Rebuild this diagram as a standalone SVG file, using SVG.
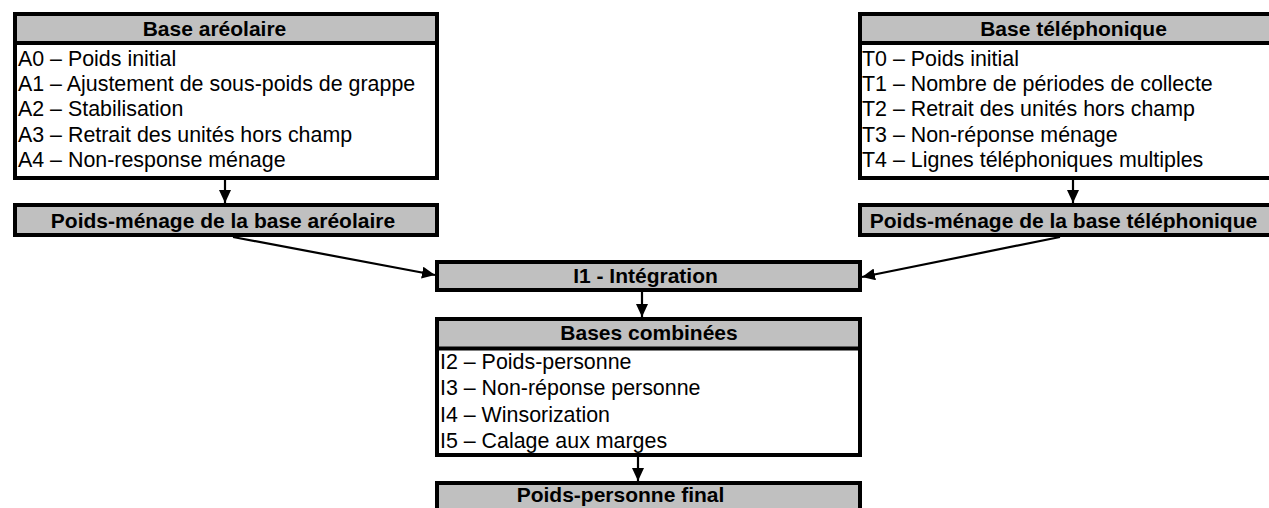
<svg xmlns="http://www.w3.org/2000/svg" width="1269" height="508" viewBox="0 0 1269 508">
<style>
.box{fill:#ffffff;stroke:#000000;stroke-width:4}
.hdr{fill:#c0c0c0;stroke:#000000;stroke-width:4}
.t{font-family:"Liberation Sans",Arial,sans-serif;font-size:21.4px;fill:#000000}
.b{font-family:"Liberation Sans",Arial,sans-serif;font-size:21px;font-weight:bold;fill:#000000;text-anchor:middle}
.c{stroke:#000000;stroke-width:2.2;fill:none;marker-end:url(#ah)}
</style>
<defs>
<marker id="ah" markerUnits="userSpaceOnUse" markerWidth="13" markerHeight="12" refX="13" refY="6" orient="auto" viewBox="0 0 13 12">
<path d="M0,0 L13,6 L0,12 z" fill="#000000"/>
</marker>
</defs>
<g id="base-areolaire">
<rect class="box" x="15" y="14" width="422" height="164"/>
<rect class="hdr" x="15" y="14" width="422" height="29"/>
<text class="b" x="214.5" y="36">Base aréolaire</text>
<text class="t" x="18" y="66">A0 – Poids initial</text>
<text class="t" x="18" y="91">A1 – Ajustement de sous-poids de grappe</text>
<text class="t" x="18" y="116">A2 – Stabilisation</text>
<text class="t" x="18" y="141.5">A3 – Retrait des unités hors champ</text>
<text class="t" x="18" y="166.5">A4 – Non-response ménage</text>
</g>
<g id="base-telephonique">
<rect class="box" x="860" y="14" width="430" height="164"/>
<rect class="hdr" x="860" y="14" width="430" height="29"/>
<text class="b" x="1073.5" y="36">Base téléphonique</text>
<text class="t" x="862" y="66">T0 – Poids initial</text>
<text class="t" x="862" y="91">T1 – Nombre de périodes de collecte</text>
<text class="t" x="862" y="116">T2 – Retrait des unités hors champ</text>
<text class="t" x="862" y="141.5">T3 – Non-réponse ménage</text>
<text class="t" x="862" y="166.5">T4 – Lignes téléphoniques multiples</text>
</g>
<g id="poids-menage-areolaire">
<rect class="hdr" x="15" y="205" width="422" height="30"/>
<text class="b" x="223" y="228">Poids-ménage de la base aréolaire</text>
</g>
<g id="poids-menage-telephonique">
<rect class="hdr" x="860" y="205" width="430" height="30"/>
<text class="b" x="1063.5" y="228">Poids-ménage de la base téléphonique</text>
</g>
<g id="integration">
<rect class="hdr" x="437" y="262" width="423" height="28"/>
<text class="b" x="645.5" y="283">I1 - Intégration</text>
</g>
<g id="bases-combinees">
<rect class="box" x="437" y="319" width="423" height="136"/>
<rect class="hdr" x="437" y="319" width="423" height="29.5"/>
<text class="b" x="649" y="340">Bases combinées</text>
<text class="t" x="440" y="369">I2 – Poids-personne</text>
<text class="t" x="440" y="395">I3 – Non-réponse personne</text>
<text class="t" x="440" y="421.5">I4 – Winsorization</text>
<text class="t" x="440" y="448">I5 – Calage aux marges</text>
</g>
<g id="poids-personne-final">
<rect class="hdr" x="437" y="483" width="423" height="40"/>
<text class="b" x="620.5" y="502">Poids-personne final</text>
</g>
<g id="connectors">
<line class="c" x1="225" y1="180" x2="225" y2="203"/>
<line class="c" x1="1073" y1="180" x2="1073" y2="203"/>
<line class="c" x1="233" y1="237" x2="435" y2="275"/>
<line class="c" x1="1060" y1="237" x2="862" y2="277"/>
<line class="c" x1="642" y1="292" x2="642" y2="317"/>
<line class="c" x1="638" y1="457" x2="638" y2="481"/>
</g>
</svg>
